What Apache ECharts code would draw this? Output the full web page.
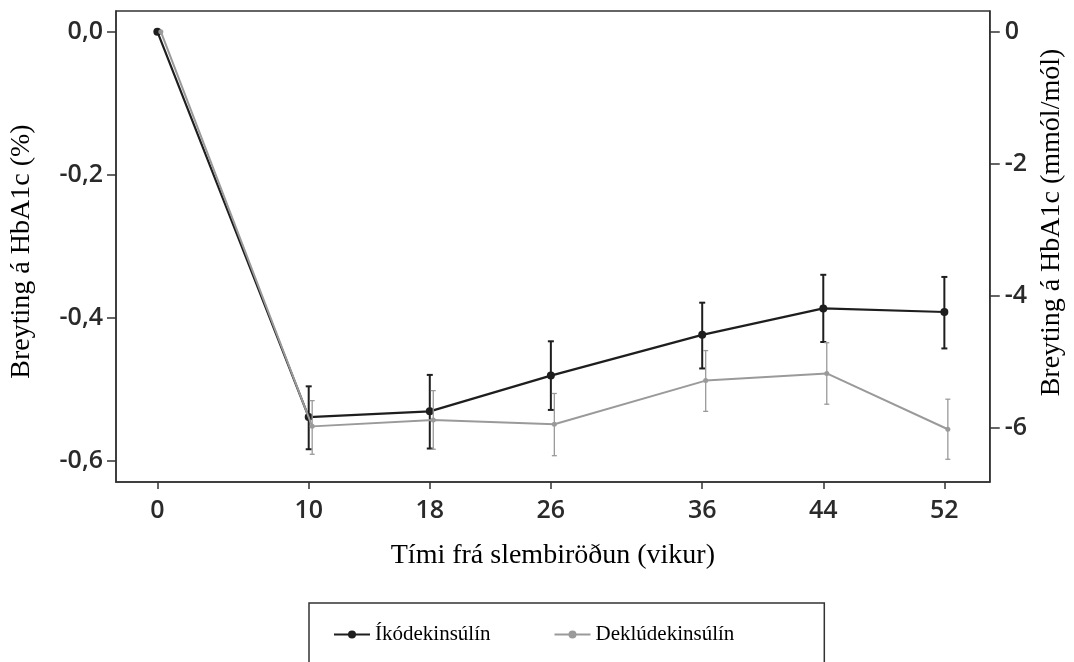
<!DOCTYPE html>
<html>
<head>
<meta charset="utf-8">
<script src="https://cdn.jsdelivr.net/npm/echarts@6/dist/echarts.min.js"></script>
<style>
html,body{margin:0;padding:0;background:#fff;}
#chart{width:1074px;height:662px;}
</style>
</head>
<body>
<div id="chart"></div>
<script>
// ---- data ----
const weeks = [0, 10, 18, 26, 36, 44, 52];
const xTickLabels = ['0', '10', '18', '26', '36', '44', '52'];
const leftTicks = [0, -0.2, -0.4, -0.6];
const rightTicks = [0, -2, -4, -6];

const seriesNames = ['Íkódekinsúlín', 'Deklúdekinsúlín'];
const ikoMean = [0, -0.539, -0.531, -0.481, -0.424, -0.387, -0.392];
const ikoLow  = [null, -0.584, -0.583, -0.529, -0.471, -0.434, -0.443];
const ikoHigh = [null, -0.496, -0.480, -0.433, -0.379, -0.340, -0.343];
const deklMean = [0, -0.552, -0.543, -0.549, -0.488, -0.478, -0.556];
const deklLow  = [null, -0.591, -0.584, -0.593, -0.531, -0.521, -0.598];
const deklHigh = [null, -0.516, -0.502, -0.506, -0.446, -0.435, -0.514];

const xTitle = 'Tími frá slembiröðun (vikur)';
const yLeftTitle = 'Breyting á HbA1c (%)';
const yRightTitle = 'Breyting á HbA1c (mmól/mól)';

// ---- styling / layout ----
const BLACK = '#1e1e1e', GRAY = '#9a9a9a', AXIS = '#333';
const DODGE = 0.23; // small horizontal dodge of the second series (weeks)

function linePoints(mean, dx) {
  return weeks.map((w, i) => [w + dx, mean[i]]);
}
function barPoints(low, high, dx) {
  const out = [];
  weeks.forEach((w, i) => { if (low[i] != null) out.push([w + dx, low[i], high[i]]); });
  return out;
}
function errRender(color, width, cap) {
  return function (params, api) {
    const x = api.value(0);
    const lo = api.coord([x, api.value(1)]);
    const hi = api.coord([x, api.value(2)]);
    const st = { stroke: color, lineWidth: width };
    return {
      type: 'group',
      children: [
        { type: 'line', shape: { x1: lo[0], y1: lo[1], x2: hi[0], y2: hi[1] }, style: st },
        { type: 'line', shape: { x1: lo[0] - cap, y1: lo[1], x2: lo[0] + cap, y2: lo[1] }, style: st },
        { type: 'line', shape: { x1: hi[0] - cap, y1: hi[1], x2: hi[0] + cap, y2: hi[1] }, style: st }
      ]
    };
  };
}

const tickFont = { fontFamily: 'Open Sans', fontSize: 25, fontWeight: 600, color: '#2a2a2a' };
const titleFont = { fontFamily: 'Liberation Serif', fontSize: 28, color: '#000' };

const chart = echarts.init(document.getElementById('chart'), null, { renderer: 'canvas' });
chart.setOption({
  backgroundColor: '#fff',
  animation: false,
  grid: { left: 115, right: 72, top: 11, bottom: 180, show: true, borderColor: AXIS, borderWidth: 1.5, backgroundColor: 'transparent' },
  legend: {
    data: seriesNames,
    top: 603, left: 309,
    padding: [21, 90, 40, 24],
    itemGap: 63,
    itemWidth: 36, itemHeight: 10,
    borderColor: '#333', borderWidth: 1.5,
    textStyle: { fontFamily: 'Liberation Serif', fontSize: 21, color: '#000' }
  },
  xAxis: {
    type: 'value', min: -2.733, max: 55,
    name: xTitle, nameLocation: 'middle', nameGap: 60, nameTextStyle: titleFont,
    axisLine: { show: true, onZero: false, lineStyle: { color: AXIS, width: 1.5 } },
    axisTick: { show: true, length: 7, lineStyle: { color: AXIS, width: 1.5 }, customValues: weeks },
    axisLabel: Object.assign({ margin: 16, customValues: weeks, formatter: v => xTickLabels[weeks.indexOf(v)] }, tickFont),
    splitLine: { show: false }
  },
  yAxis: [{
    type: 'value', min: -0.6298, max: 0.02895, position: 'left',
    name: yLeftTitle, nameLocation: 'middle', nameGap: 80, nameRotate: 90,
    nameTextStyle: Object.assign({ padding: [0, 10, 0, 0] }, titleFont),
    axisLine: { show: true, onZero: false, lineStyle: { color: AXIS, width: 1.5 } },
    axisTick: { show: true, length: 9, lineStyle: { color: AXIS, width: 1.5 }, customValues: leftTicks },
    axisLabel: Object.assign({ margin: 13, customValues: leftTicks, formatter: v => (Math.abs(v) < 1e-9 ? 0 : v).toFixed(1).replace('.', ',') }, tickFont),
    splitLine: { show: false }
  }, {
    type: 'value', min: -6.823, max: 0.3136, position: 'right',
    name: yRightTitle, nameLocation: 'middle', nameGap: 44, nameRotate: 90,
    nameTextStyle: Object.assign({ padding: [0, 0, 0, 48] }, titleFont),
    axisLine: { show: true, onZero: false, lineStyle: { color: AXIS, width: 1.5 } },
    axisTick: { show: true, length: 10, lineStyle: { color: AXIS, width: 1.5 }, customValues: rightTicks },
    axisLabel: Object.assign({ margin: 15, customValues: rightTicks, formatter: v => String(v) }, tickFont),
    splitLine: { show: false }
  }],
  series: [
    {
      name: seriesNames[0], type: 'line', data: linePoints(ikoMean, 0),
      symbol: 'circle', symbolSize: 8,
      itemStyle: { color: BLACK }, lineStyle: { color: BLACK, width: 2.2 }, z: 3
    },
    {
      name: seriesNames[0] + ' ci', type: 'custom', data: barPoints(ikoLow, ikoHigh, 0),
      renderItem: errRender(BLACK, 2, 3), z: 3, silent: true
    },
    {
      name: seriesNames[1], type: 'line', data: linePoints(deklMean, DODGE),
      symbol: 'circle', symbolSize: 5,
      itemStyle: { color: GRAY }, lineStyle: { color: GRAY, width: 2 }, z: 4
    },
    {
      name: seriesNames[1] + ' ci', type: 'custom', data: barPoints(deklLow, deklHigh, DODGE),
      renderItem: errRender(GRAY, 1.3, 2.5), z: 4, silent: true
    }
  ]
});
</script>
</body>
</html>
